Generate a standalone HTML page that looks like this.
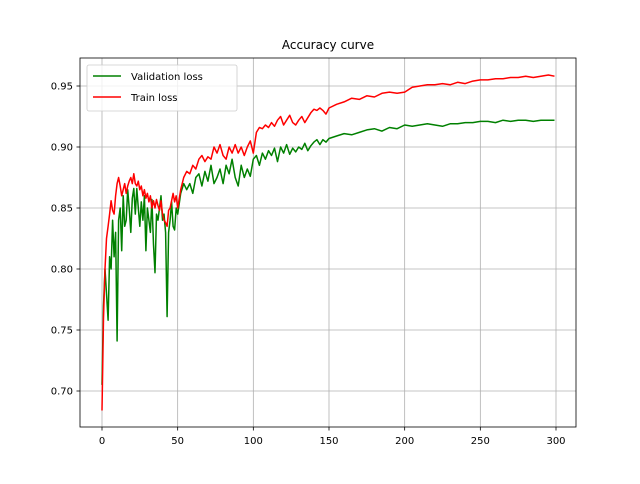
<!DOCTYPE html>
<html><head><meta charset="utf-8"><style>
body{margin:0;background:#fff;font-family:"DejaVu Sans","Liberation Sans",sans-serif}
svg text{font-family:"DejaVu Sans","Liberation Sans",sans-serif;font-size:10px;fill:#000}
</style></head><body>
<svg id="chart" width="640" height="480" xmlns="http://www.w3.org/2000/svg">
<rect width="640" height="480" fill="#fff"/>
<g id="grid"></g><g id="lines"></g><g id="axes"></g>
</svg>
<script>
const xTicks=[0,50,100,150,200,250,300];
const yTicks=[0.70,0.75,0.80,0.85,0.90,0.95];
const epochs=[0,1,2,3,4,5,6,7,8,9,10,11,12,13,14,15,16,17,18,19,20,21,22,23,24,25,26,27,28,29,30,31,32,33,34,35,36,37,38,39,40,41,42,43,44,45,46,47,48,49,50,52,54,56,58,60,62,64,66,68,70,72,74,76,78,80,82,84,86,88,90,92,94,96,98,100,102,104,106,108,110,112,114,116,118,120,122,124,126,128,130,132,134,136,138,140,142,144,146,148,150,155,160,165,170,175,180,185,190,195,200,205,210,215,220,225,230,235,240,245,250,255,260,265,270,275,280,285,290,295,299];
const trainLoss=[0.684,0.76,0.80,0.825,0.835,0.845,0.856,0.848,0.845,0.86,0.87,0.875,0.868,0.86,0.865,0.87,0.862,0.868,0.872,0.875,0.87,0.878,0.87,0.868,0.872,0.865,0.868,0.86,0.865,0.858,0.862,0.855,0.86,0.85,0.856,0.85,0.857,0.852,0.848,0.856,0.845,0.84,0.838,0.835,0.848,0.85,0.856,0.862,0.855,0.86,0.85,0.865,0.875,0.88,0.878,0.885,0.882,0.89,0.893,0.888,0.892,0.89,0.9,0.895,0.902,0.893,0.89,0.9,0.895,0.902,0.895,0.9,0.893,0.9,0.905,0.895,0.912,0.916,0.915,0.918,0.916,0.92,0.917,0.922,0.925,0.918,0.922,0.926,0.92,0.918,0.922,0.925,0.92,0.924,0.928,0.931,0.93,0.932,0.93,0.927,0.932,0.935,0.937,0.94,0.939,0.942,0.941,0.944,0.945,0.944,0.945,0.949,0.95,0.951,0.951,0.952,0.951,0.953,0.952,0.954,0.955,0.955,0.956,0.956,0.957,0.957,0.958,0.957,0.958,0.959,0.958];
const valLoss=[0.705,0.77,0.80,0.78,0.758,0.81,0.80,0.84,0.81,0.83,0.741,0.84,0.85,0.815,0.86,0.835,0.84,0.865,0.85,0.83,0.858,0.866,0.845,0.866,0.85,0.835,0.855,0.84,0.86,0.815,0.85,0.84,0.83,0.857,0.82,0.797,0.845,0.84,0.85,0.86,0.84,0.845,0.83,0.761,0.83,0.84,0.855,0.835,0.832,0.85,0.845,0.862,0.87,0.865,0.87,0.862,0.875,0.878,0.868,0.88,0.872,0.885,0.87,0.875,0.882,0.87,0.885,0.878,0.89,0.875,0.868,0.885,0.875,0.882,0.876,0.89,0.893,0.885,0.895,0.89,0.897,0.893,0.899,0.888,0.9,0.895,0.902,0.894,0.899,0.896,0.9,0.898,0.903,0.897,0.901,0.904,0.906,0.902,0.906,0.904,0.907,0.909,0.911,0.91,0.912,0.914,0.915,0.913,0.916,0.915,0.918,0.917,0.918,0.919,0.918,0.917,0.919,0.919,0.92,0.92,0.921,0.921,0.92,0.922,0.921,0.922,0.922,0.921,0.922,0.922,0.922];
const X0=80,X1=576,Y0=58,Y1=427;
const xs=v=>102+(v-0)*(556-102)/300;
const ys=v=>391-(v-0.70)*(391-86)/0.25;
const NS='http://www.w3.org/2000/svg';
function mk(t,a,p){const e=document.createElementNS(NS,t);for(const k in a)e.setAttribute(k,a[k]);p.appendChild(e);return e;}
const grid=document.getElementById('grid'),axes=document.getElementById('axes'),lines=document.getElementById('lines');
xTicks.forEach(t=>{const x=xs(t);
const g=mk('line',{x1:x,x2:x,y1:Y0,y2:Y1,stroke:'#b0b0b0','stroke-width':0.8},grid);

mk('line',{x1:x,x2:x,y1:Y1,y2:Y1+3.5,stroke:'#000','stroke-width':0.8},axes);
const tx=mk('text',{x:x,y:Y1+17,'text-anchor':'middle'},axes);tx.textContent=t;
});
yTicks.forEach(t=>{const y=ys(t);
const g=mk('line',{x1:X0,x2:X1,y1:y,y2:y,stroke:'#b0b0b0','stroke-width':0.8},grid);

mk('line',{x1:X0-3.5,x2:X0,y1:y,y2:y,stroke:'#000','stroke-width':0.8},axes);
const tx=mk('text',{x:X0-7,y:y+3.5,'text-anchor':'end'},axes);tx.textContent=t.toFixed(2);
});
function line(vals,color,name){const d=epochs.map((e,i)=>(i?'L':'M')+xs(e).toFixed(1)+','+ys(vals[i]).toFixed(1)).join('');
const p=mk('path',{d:d,fill:'none',stroke:color,'stroke-width':1.5,'stroke-linejoin':'round'},lines);
}
line(valLoss,'green','validation-loss-line');
line(trainLoss,'red','train-loss-line');
const fr=mk('rect',{x:X0,y:Y0,width:X1-X0,height:Y1-Y0,fill:'none',stroke:'#000','stroke-width':0.8},axes);

const ti=mk('text',{x:328,y:49,'text-anchor':'middle',style:'font-size:12px'},axes);ti.textContent='Accuracy curve';

const lg=mk('g',{},axes);
mk('rect',{x:87,y:65,width:150,height:46,rx:2,fill:'#fff','fill-opacity':0.8,stroke:'#ccc','stroke-width':0.8},lg);
const e1=mk('g',{},lg);
mk('line',{x1:93,x2:121,y1:76,y2:76,stroke:'green','stroke-width':1.5},e1);
const t1=mk('text',{x:131,y:80},e1);t1.textContent='Validation loss';
const e2=mk('g',{},lg);
mk('line',{x1:93,x2:121,y1:97,y2:97,stroke:'red','stroke-width':1.5},e2);
const t2=mk('text',{x:131,y:101},e2);t2.textContent='Train loss';
</script>
</body></html>
